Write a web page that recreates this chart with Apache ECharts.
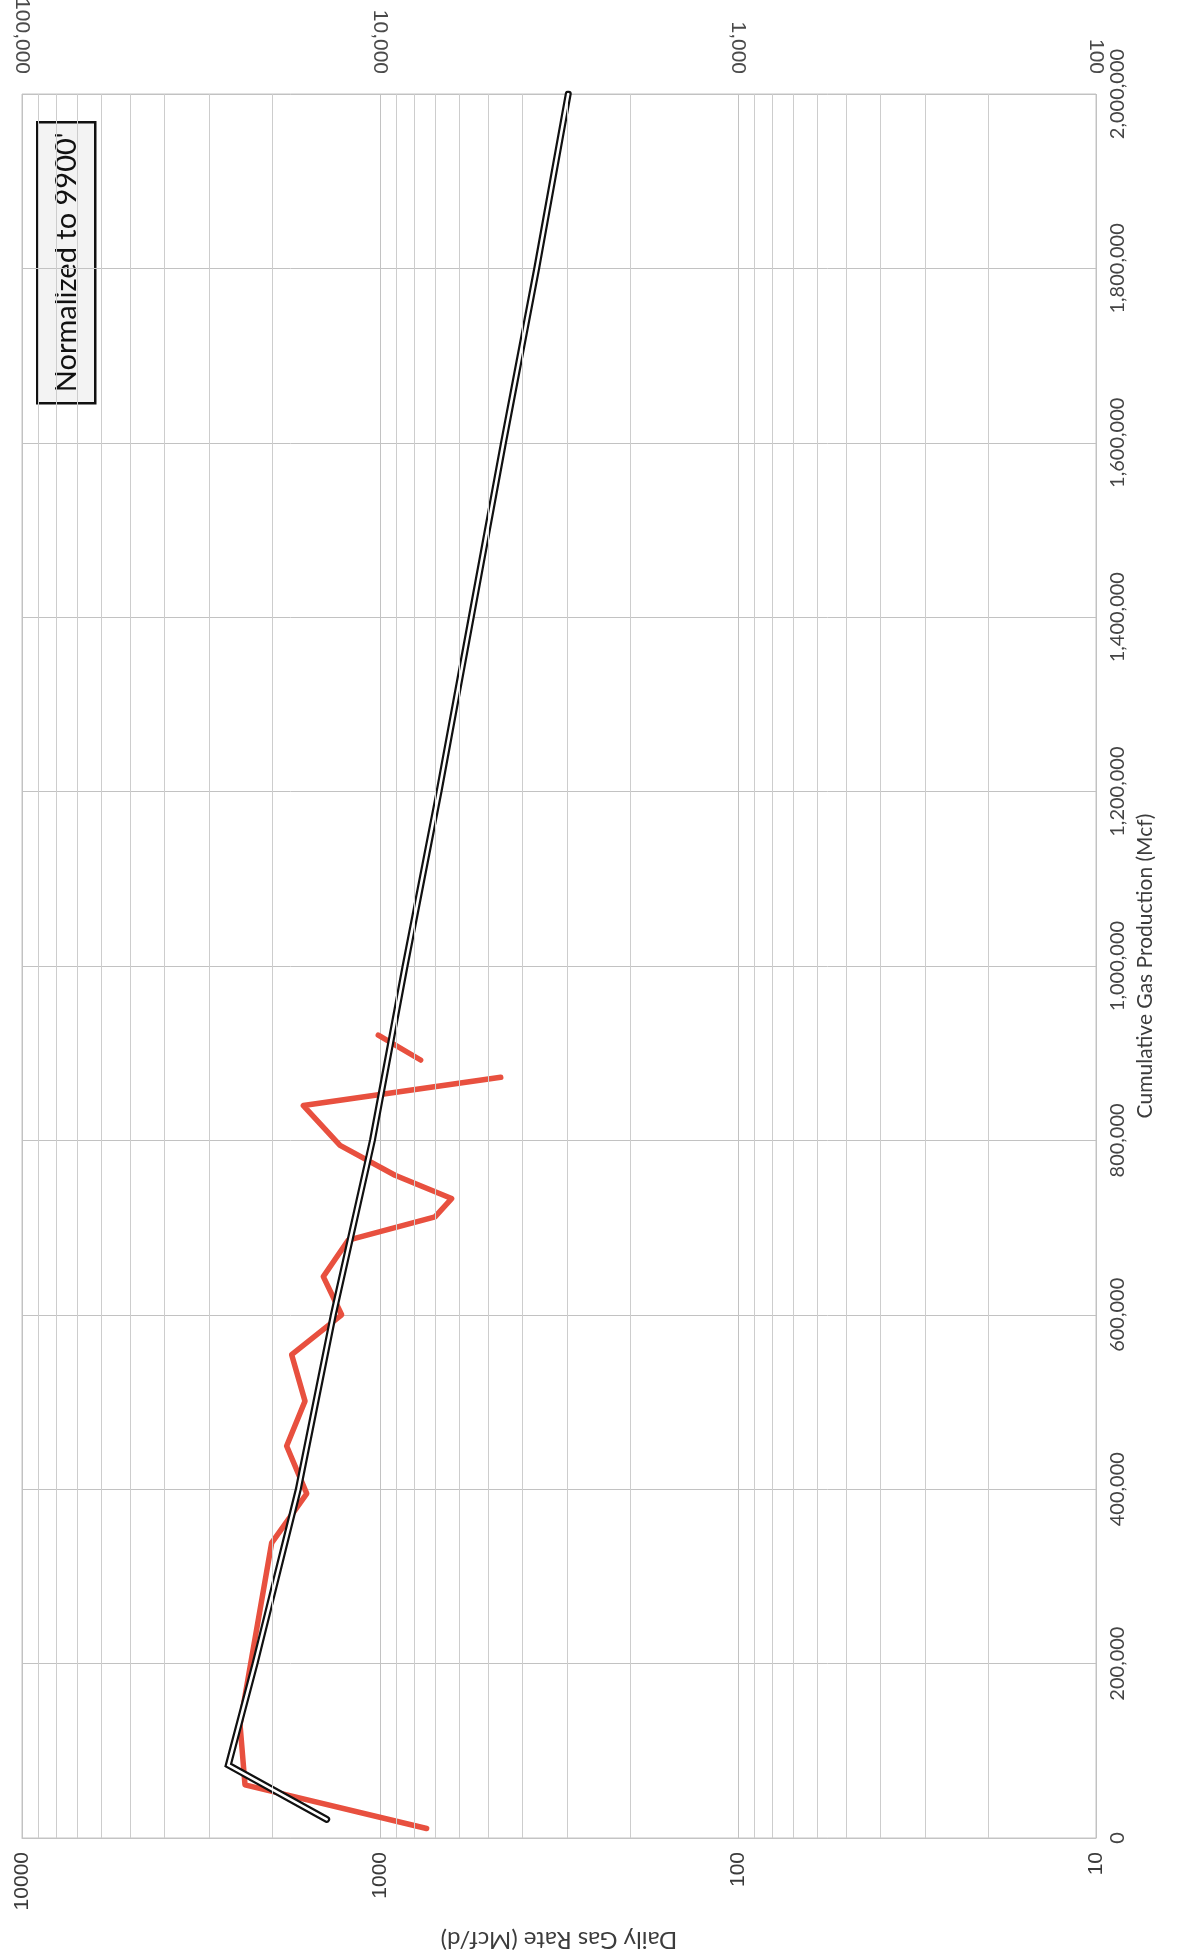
<!DOCTYPE html>
<html>
<head>
<meta charset="utf-8">
<script src="https://cdn.jsdelivr.net/npm/echarts@6/dist/echarts.min.js"></script>
<style>
  html, body { margin: 0; padding: 0; background: #fff; }
  #chartBox { width: 1182px; height: 1958px; }
</style>
</head>
<body>
<div id="chartBox"></div>
<script>
// measured rate (red), cumulative gas in Mcf and daily rate in Mcf/d; null = gap
const cumActual = [10900, 61000, 130000, 338500, 395000, 449500, 501000, 554300, 600000, 643800,
  685700, 712400, 733300, 760000, 794300, 840000, 872400, null, 892200, 920800]
const rateActual = [741, 2383, 2460, 2007, 1602, 1823, 1620, 1765, 1280, 1440,
  1226, 702, 631, 908, 1293, 1637, 460, null, 770, 1011]

// forecast curve (black double line)
const cumForecast = [21400, 83650, 200000, 400000, 600000, 800000, 1000000, 1200000,
  1400000, 1600000, 1800000, 2000000]
const rateForecast = [1409, 2653, 2234, 1691, 1350, 1050, 851, 684, 556, 452, 365, 298]

// minor log gridlines
const minorRates = [20, 30, 40, 50, 60, 70, 80, 90, 200, 300, 400, 500, 600, 700, 800, 900,
  2000, 3000, 4000, 5000, 6000, 7000, 8000, 9000]

function toPoints (cum, rate) {
  return cum.map(function (c, i) {
    return c == null ? ['-', '-'] : [rate[i], c]
  })
}

function commas (v) {
  return Math.round(v).toString().replace(/\B(?=(\d{3})+(?!\d))/g, ',')
}

let myChart = echarts.init(document.getElementById('chartBox'), null, { renderer: 'canvas' })
let gridColor = '#cdcdcd'

myChart.setOption({
  animation: false,
  backgroundColor: '#ffffff',
  grid: {
    left: 22,
    right: 86,
    top: 94,
    bottom: 120,
    outerBoundsMode: 'none',
    containLabel: false,
    show: true,
    borderColor: '#c4c4c4',
    borderWidth: 1
  },
  xAxis: [{
    type: 'log',
    logBase: 10,
    min: 10,
    max: 10000,
    inverse: true,
    position: 'bottom',
    name: 'Daily Gas Rate (Mcf/d)',
    nameLocation: 'middle',
    nameRotate: 180,
    nameGap: 90,
    nameTextStyle: { fontFamily: 'Lato', fontSize: 24, color: '#3c3c3c' },
    axisLine: { show: true, lineStyle: { color: '#c4c4c4' } },
    axisTick: { show: false },
    splitLine: { show: true, lineStyle: { color: '#c2c2c2', width: 1 } },
    axisLabel: {
      rotate: 90,
      margin: 14,
      fontFamily: 'Liberation Sans',
      fontSize: 21,
      color: '#3a3a3a',
      formatter: function (v) { return String(Math.round(v)) }
    }
  }, {
    type: 'log',
    logBase: 10,
    min: 100,
    max: 100000,
    inverse: true,
    position: 'top',
    axisLine: { show: false },
    axisTick: { show: false },
    splitLine: { show: false },
    axisLabel: {
      rotate: 90,
      margin: 20,
      fontFamily: 'Liberation Sans',
      fontSize: 21,
      color: '#4a4a4a',
      formatter: commas
    }
  }],
  yAxis: {
    type: 'value',
    min: 0,
    max: 2000000,
    interval: 200000,
    position: 'right',
    name: 'Cumulative Gas Production (Mcf)',
    nameLocation: 'middle',
    nameGap: 39,
    nameMoveOverlap: false,
    nameTextStyle: { fontFamily: 'Lato', fontSize: 21, color: '#3c3c3c' },
    axisLine: { show: false },
    axisTick: { show: false },
    splitLine: { show: true, lineStyle: { color: '#c2c2c2', width: 1 } },
    axisLabel: {
      rotate: 90,
      margin: 12,
      fontFamily: 'Lato',
      fontSize: 20,
      color: '#444',
      formatter: commas
    }
  },
  graphic: [{
    type: 'group',
    left: 36,
    top: 121,
    children: [{
      type: 'rect',
      shape: { x: 0, y: 0, width: 58, height: 281 },
      style: { fill: '#f3f3f3', stroke: '#111', lineWidth: 2.5 }
    }, {
      type: 'text',
      x: 29,
      y: 140,
      rotation: Math.PI / 2,
      style: {
        text: "Normalized to 9900'",
        fontFamily: 'Lato',
        fontSize: 29,
        fill: '#111',
        align: 'center',
        verticalAlign: 'middle'
      }
    }]
  }],
  series: [{
    // minor gridlines of the log axis
    type: 'line',
    xAxisIndex: 0,
    data: [],
    z: 1,
    silent: true,
    markLine: {
      silent: true,
      symbol: 'none',
      label: { show: false },
      lineStyle: { color: gridColor, width: 1, type: 'solid' },
      data: minorRates.map(function (v) { return { xAxis: v } })
    }
  }, {
    name: 'Actual',
    type: 'line',
    xAxisIndex: 0,
    z: 3,
    symbol: 'none',
    connectNulls: false,
    lineStyle: { color: '#e8503f', width: 5.5, join: 'round', cap: 'round' },
    data: toPoints(cumActual, rateActual)
  }, {
    name: 'Forecast',
    type: 'line',
    xAxisIndex: 0,
    z: 4,
    symbol: 'none',
    lineStyle: { color: '#111', width: 7, join: 'miter', cap: 'round' },
    data: toPoints(cumForecast, rateForecast)
  }, {
    name: 'ForecastInner',
    type: 'line',
    xAxisIndex: 0,
    z: 5,
    symbol: 'none',
    lineStyle: { color: '#ffffff', width: 2.6, join: 'miter', cap: 'round' },
    data: toPoints(cumForecast, rateForecast)
  }]
})
</script>
</body>
</html>
